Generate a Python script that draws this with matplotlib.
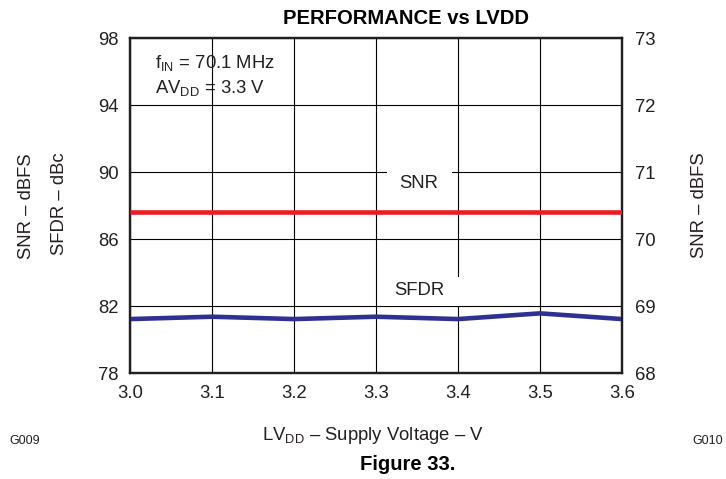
import matplotlib
matplotlib.use("Agg")
import matplotlib.pyplot as plt
from matplotlib.patches import Rectangle

plt.rcParams['font.family'] = ['Liberation Sans', 'DejaVu Sans']
plt.rcParams['mathtext.fontset'] = 'custom'
plt.rcParams['mathtext.rm'] = 'Liberation Sans'
plt.rcParams['mathtext.it'] = 'Liberation Sans'

voltage = [3.0, 3.1, 3.2, 3.3, 3.4, 3.5, 3.6]
sfdr = [81.22, 81.36, 81.22, 81.36, 81.22, 81.56, 81.22]
snr = [70.4, 70.4, 70.4, 70.4, 70.4, 70.4, 70.4]
left_ticks = [78, 82, 86, 90, 94, 98]
right_ticks = [68, 69, 70, 71, 72, 73]
x_ticks = [3.0, 3.1, 3.2, 3.3, 3.4, 3.5, 3.6]

TXT = '#231f20'
FS = 13.3

fig = plt.figure(figsize=(7.26, 4.79), dpi=100)
ax = fig.add_axes([130/726, 1-373/479, 492/726, 335/479])
ax.set_xlim(3.0, 3.6)
ax.set_ylim(78, 98)
ax.set_xticks(x_ticks)
ax.set_xticklabels([f"{v:.1f}" for v in x_ticks])
ax.set_yticks(left_ticks)
ax.grid(True, color='black', linewidth=0.8, zorder=1)
ax.set_axisbelow(True)
ax.tick_params(axis='both', length=0, labelsize=FS, colors=TXT)
ax.tick_params(axis='x', pad=9)
ax.tick_params(axis='y', pad=8)
for s in ax.spines.values():
    s.set_linewidth(1.6)
    s.set_color(TXT)

# white gaps in the grid behind the series labels
ax.add_patch(Rectangle((3.3134, 88.45), 0.0793, 1.97, facecolor='white',
                       edgecolor='none', zorder=2))
ax.add_patch(Rectangle((3.306, 82.02), 0.099, 1.71, facecolor='white',
                       edgecolor='none', zorder=2))

ax.plot(voltage, sfdr, color='#2e3192', linewidth=3.3, zorder=5,
        solid_joinstyle='round', solid_capstyle='butt')

ax2 = ax.twinx()
ax2.set_ylim(68, 73)
ax2.set_yticks(right_ticks)
ax2.tick_params(length=0, labelsize=FS, pad=9, colors=TXT)
for s in ax2.spines.values():
    s.set_linewidth(1.6)
    s.set_color(TXT)
ax2.plot(voltage, snr, color='#ed1c24', linewidth=3.3, zorder=5,
         solid_capstyle='butt')

ax.text(3.3525, 89.3, "SNR", ha='center', va='center', fontsize=FS, color=TXT, zorder=3)
ax.text(3.3525, 82.95, "SFDR", ha='center', va='center', fontsize=FS, color=TXT, zorder=3)

ax.text(3.0305, 96.5, r"f$_{\mathregular{IN}}$ = 70.1 MHz", ha='left', va='center',
        fontsize=FS, color=TXT)
ax.text(3.0305, 95.0, r"AV$_{\mathregular{DD}}$ = 3.3 V", ha='left', va='center',
        fontsize=FS, color=TXT)

fig.text(406/726, 1-18.5/479, "PERFORMANCE vs LVDD", ha='center', va='center',
         fontsize=14.6, fontweight='bold', color='black')
fig.text(27/726, 1-206/479, "SNR \u2013 dBFS", rotation=90, ha='center', va='center',
         fontsize=FS, color=TXT)
fig.text(59/726, 1-204/479, "SFDR \u2013 dBc", rotation=90, ha='center', va='center',
         fontsize=FS, color=TXT)
fig.text(700/726, 1-205/479, "SNR \u2013 dBFS", rotation=90, ha='center', va='center',
         fontsize=FS, color=TXT)
fig.text(373/726, 1-436/479, "LV$_{\\mathregular{DD}}$ \u2013 Supply Voltage \u2013 V",
         ha='center', va='center', fontsize=FS, color=TXT)
fig.text(25/726, 1-441/479, "G009", ha='center', va='center', fontsize=9, color=TXT)
fig.text(708/726, 1-441/479, "G010", ha='center', va='center', fontsize=9, color=TXT)
fig.text(408/726, 1-465/479, "Figure 33.", ha='center', va='center', fontsize=14.6,
         fontweight='bold', color='black')

fig.savefig("out.png", dpi=100)
